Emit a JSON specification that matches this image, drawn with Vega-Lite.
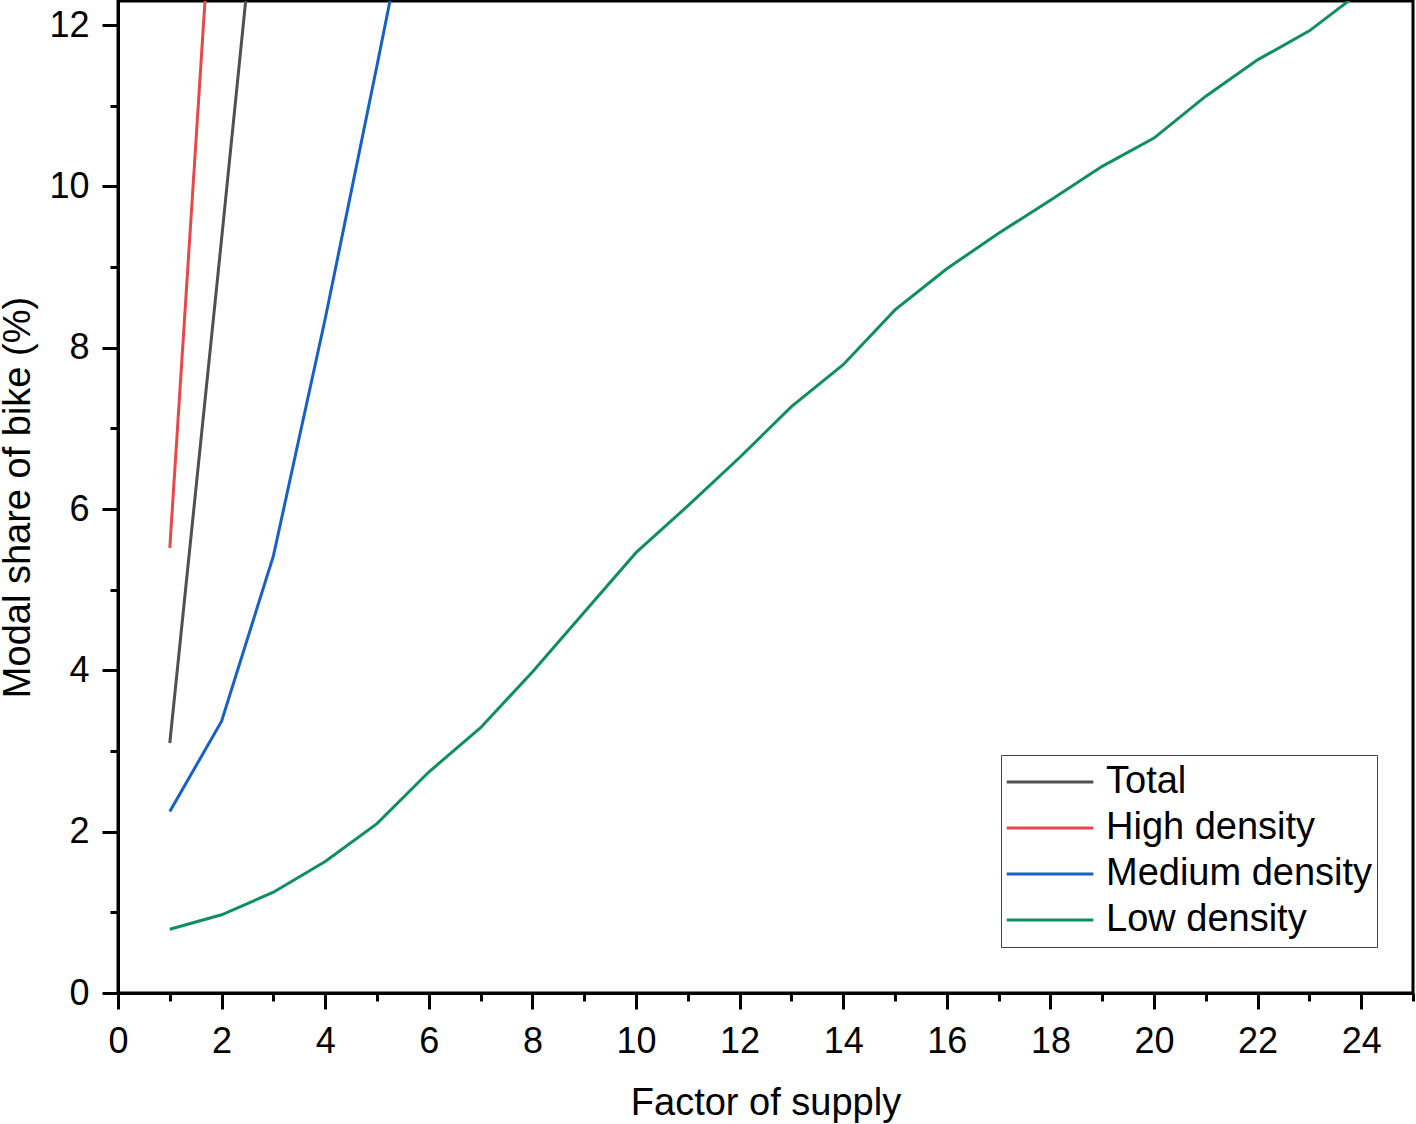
{
  "$schema": "https://vega.github.io/schema/vega-lite/v6.json",
  "autosize": "none",
  "width": 1295,
  "height": 992,
  "padding": {"left": 118, "top": 1, "right": 3, "bottom": 131},
  "background": "white",
  "data": {
    "values": [
      {"factor": 1, "share": 3.1, "group": "Total"},
      {"factor": 2, "share": 9.35, "group": "Total"},
      {"factor": 3, "share": 15.7, "group": "Total"},
      {"factor": 1, "share": 5.52, "group": "High density"},
      {"factor": 2, "share": 15.5, "group": "High density"},
      {"factor": 1, "share": 2.25, "group": "Medium density"},
      {"factor": 2, "share": 3.37, "group": "Medium density"},
      {"factor": 3, "share": 5.42, "group": "Medium density"},
      {"factor": 4, "share": 8.36, "group": "Medium density"},
      {"factor": 5, "share": 11.5, "group": "Medium density"},
      {"factor": 6, "share": 14.7, "group": "Medium density"},
      {"factor": 1, "share": 0.79, "group": "Low density"},
      {"factor": 2, "share": 0.97, "group": "Low density"},
      {"factor": 3, "share": 1.25, "group": "Low density"},
      {"factor": 4, "share": 1.63, "group": "Low density"},
      {"factor": 5, "share": 2.1, "group": "Low density"},
      {"factor": 6, "share": 2.74, "group": "Low density"},
      {"factor": 7, "share": 3.29, "group": "Low density"},
      {"factor": 8, "share": 3.98, "group": "Low density"},
      {"factor": 9, "share": 4.72, "group": "Low density"},
      {"factor": 10, "share": 5.46, "group": "Low density"},
      {"factor": 11, "share": 6.04, "group": "Low density"},
      {"factor": 12, "share": 6.64, "group": "Low density"},
      {"factor": 13, "share": 7.27, "group": "Low density"},
      {"factor": 14, "share": 7.79, "group": "Low density"},
      {"factor": 15, "share": 8.47, "group": "Low density"},
      {"factor": 16, "share": 8.98, "group": "Low density"},
      {"factor": 17, "share": 9.42, "group": "Low density"},
      {"factor": 18, "share": 9.83, "group": "Low density"},
      {"factor": 19, "share": 10.25, "group": "Low density"},
      {"factor": 20, "share": 10.6, "group": "Low density"},
      {"factor": 21, "share": 11.12, "group": "Low density"},
      {"factor": 22, "share": 11.57, "group": "Low density"},
      {"factor": 23, "share": 11.93, "group": "Low density"},
      {"factor": 24, "share": 12.42, "group": "Low density"}
    ]
  },
  "mark": {"type": "line", "clip": true, "strokeWidth": 3},
  "encoding": {
    "x": {
      "field": "factor",
      "type": "quantitative",
      "title": "Factor of supply",
      "scale": {"domain": [0, 25], "nice": false, "zero": false},
      "axis": {
        "values": [0, 1, 2, 3, 4, 5, 6, 7, 8, 9, 10, 11, 12, 13, 14, 15, 16, 17, 18, 19, 20, 21, 22, 23, 24, 25],
        "labelExpr": "datum.value % 2 === 0 ? datum.label : ''",
        "tickSize": {"condition": {"test": "datum.value % 2 === 0", "value": 16}, "value": 8},
        "labelPadding": 15,
        "titlePadding": 25
      }
    },
    "y": {
      "field": "share",
      "type": "quantitative",
      "title": "Modal share of bike (%)",
      "scale": {"domain": [0, 12.3], "nice": false},
      "axis": {
        "values": [0, 1, 2, 3, 4, 5, 6, 7, 8, 9, 10, 11, 12],
        "labelExpr": "datum.value % 2 === 0 ? datum.label : ''",
        "tickSize": {"condition": {"test": "datum.value % 2 === 0", "value": 16}, "value": 8},
        "labelPadding": 13,
        "titlePadding": 11
      }
    },
    "color": {
      "field": "group",
      "type": "nominal",
      "title": null,
      "scale": {
        "domain": ["Total", "High density", "Medium density", "Low density"],
        "range": ["#505050", "#e84848", "#1760c8", "#0f8f60"]
      },
      "legend": {
        "orient": "none",
        "legendX": 883,
        "legendY": 754,
        "symbolType": "stroke",
        "symbolSize": 7500,
        "symbolStrokeWidth": 3,
        "labelFontSize": 38,
        "labelLimit": 400,
        "labelOffset": 11,
        "padding": 4,
        "clipHeight": 46,
        "rowPadding": 0,
        "strokeColor": "#444444",
        "fillColor": "white"
      }
    }
  },
  "config": {
    "font": "Liberation Sans",
    "view": {"stroke": "black", "strokeWidth": 3},
    "axis": {
      "grid": false,
      "labelFlush": false,
      "labelOverlap": false,
      "domainColor": "black",
      "domainWidth": 3,
      "tickColor": "black",
      "tickWidth": 3,
      "labelColor": "black",
      "labelFontSize": 36,
      "labelFont": "Liberation Sans",
      "titleFont": "Liberation Sans",
      "titleFontSize": 38,
      "titleFontWeight": "normal",
      "titleColor": "black"
    },
    "legend": {"labelFont": "Liberation Sans", "labelColor": "black"}
  }
}
